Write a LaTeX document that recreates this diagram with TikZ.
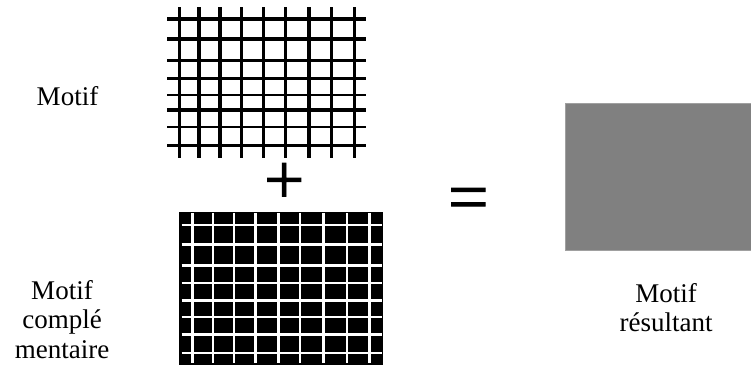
\documentclass[tikz,border=0pt]{standalone}
\usepackage{fontspec}
\setmainfont{Liberation Serif}
\newfontface\symface[FakeBold=1.2]{Liberation Serif}
\begin{document}
\begin{tikzpicture}[x=1pt,y=-1pt,
  lbl/.style={inner sep=0pt, align=center, font=\fontsize{27}{29.5}\selectfont},
  sym/.style={inner sep=0pt, font=\symface\fontsize{72}{72}\selectfont, anchor=base},
  thickline/.style={line width=3.2pt},
  thinline/.style={line width=2pt},
  wthick/.style={white, line width=3pt},
  wthin/.style={white, line width=2pt}]
\useasboundingbox (0,0) rectangle (751,367);
\fill[white] (0,0) rectangle (751,367);

% top grid (motif)
\foreach \y/\s in {19/thickline,39/thickline,60.3/thickline,78.3/thickline,95/thinline,110/thickline,127.3/thinline,145.7/thickline}
  \draw[\s] (167.3,\y) -- (366,\y);
\foreach \x in {179.3,199,220,241.7,263.7,285.3,309,331.7,354.3}
  \draw[thickline] (\x,7) -- (\x,158);

% bottom grid (motif complementaire)
\fill[black] (179.3,211.7) rectangle (382.7,365);
\foreach \x/\s in {192.7/wthick,212.7/wthin,233.7/wthin,255.3/wthick,278.3/wthick,300/wthin,323.3/wthick,346.7/wthin,369.3/wthick}
  \draw[\s] (\x,213) -- (\x,363);
\foreach \y/\s in {225.3/wthin,244.3/wthick,265.3/wthick,283.3/wthin,300.3/wthick,317/wthin,334/wthick,352.7/wthin}
  \draw[\s] (181.7,\y) -- (381.7,\y);

% resulting pattern
\fill[fill={rgb,255:red,128;green,128;blue,128}, draw={rgb,255:red,160;green,160;blue,160}, line width=0.6pt] (565,103.3) rectangle (751,250);

% symbols
\node[sym] (plus) at (284.2,203.7) {+};
\node[sym] (eq) at (468.3,221) {=};

% labels
\node[lbl, anchor=base] (m1) at (67.5,105) {Motif};
\node[lbl, anchor=north] (m2) at (62,280) {Motif\\complé\\mentaire};
\node[lbl, anchor=north] (m3) at (666,283) {Motif\\résultant};
\end{tikzpicture}
\end{document}
